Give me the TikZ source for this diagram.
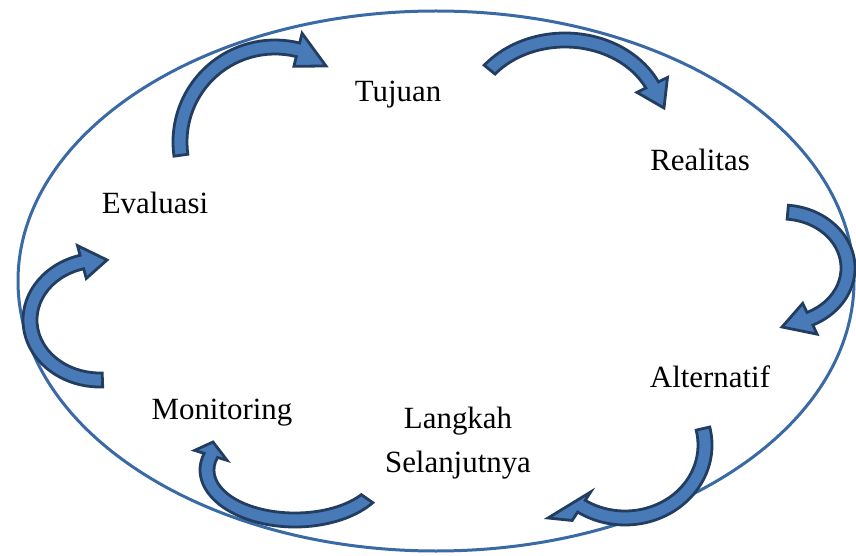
\documentclass[tikz,border=0pt]{standalone}
\usepackage{fontspec}
\setmainfont{Liberation Serif}
\definecolor{ellblue}{RGB}{58,106,166}
\definecolor{arrfill}{RGB}{72,122,184}
\definecolor{arrline}{RGB}{35,61,96}
\tikzset{
  lbl/.style={font=\fontsize{31}{44}\selectfont, inner sep=0pt, align=center},
  blockarrow/.style={fill=arrfill, draw=arrline, line width=2.8pt, line join=miter},
}
% #1 cx, #2 cy, #3 rx, #4 ry, #5 start angle, #6 end angle, #7 tip x, #8 tip y
\newcommand\curvblock[8]{%
  \begin{scope}[shift={(#1,#2)}]
    \filldraw[blockarrow]
      (#5:{#3+7} and {#4+7})
      arc[start angle=#5, end angle=#6, x radius={#3+7}, y radius={#4+7}]
      -- (#6:{#3+17} and {#4+17})
      -- ({#7-#1},{#8-#2})
      -- (#6:{#3-17} and {#4-17})
      -- (#6:{#3-7} and {#4-7})
      arc[start angle=#6, end angle=#5, x radius={#3-7}, y radius={#4-7}]
      -- cycle;
  \end{scope}}
\begin{document}
\begin{tikzpicture}[x=1bp,y=-1bp]
\useasboundingbox (0,0) rectangle (856,556);
\draw[ellblue, line width=3bp] (436,281) ellipse[x radius=418, y radius=270];

\curvblock{275}{142}{95}{95}{172}{284}{326}{66}
\curvblock{565}{120}{97}{80}{219}{334}{664}{108}
\curvblock{782}{268}{66}{56}{275}{425}{782}{327}
\curvblock{100}{320}{70}{60}{88}{255}{107}{260}
\curvblock{295}{470}{88}{50}{35}{197}{213}{442}
\curvblock{625}{445}{80}{73}{-13}{123}{548}{518}

\node[lbl, anchor=base] (tujuan) at (398,102) {Tujuan};
\node[lbl, anchor=base] (realitas) at (700,171) {Realitas};
\node[lbl, anchor=base] (evaluasi) at (155,214) {Evaluasi};
\node[lbl, anchor=base] (alternatif) at (710,387) {Alternatif};
\node[lbl, anchor=base] (monitoring) at (222,419) {Monitoring};
\node[lbl, anchor=center] (langkah) at (458,443) {Langkah\\Selanjutnya};
\end{tikzpicture}
\end{document}
